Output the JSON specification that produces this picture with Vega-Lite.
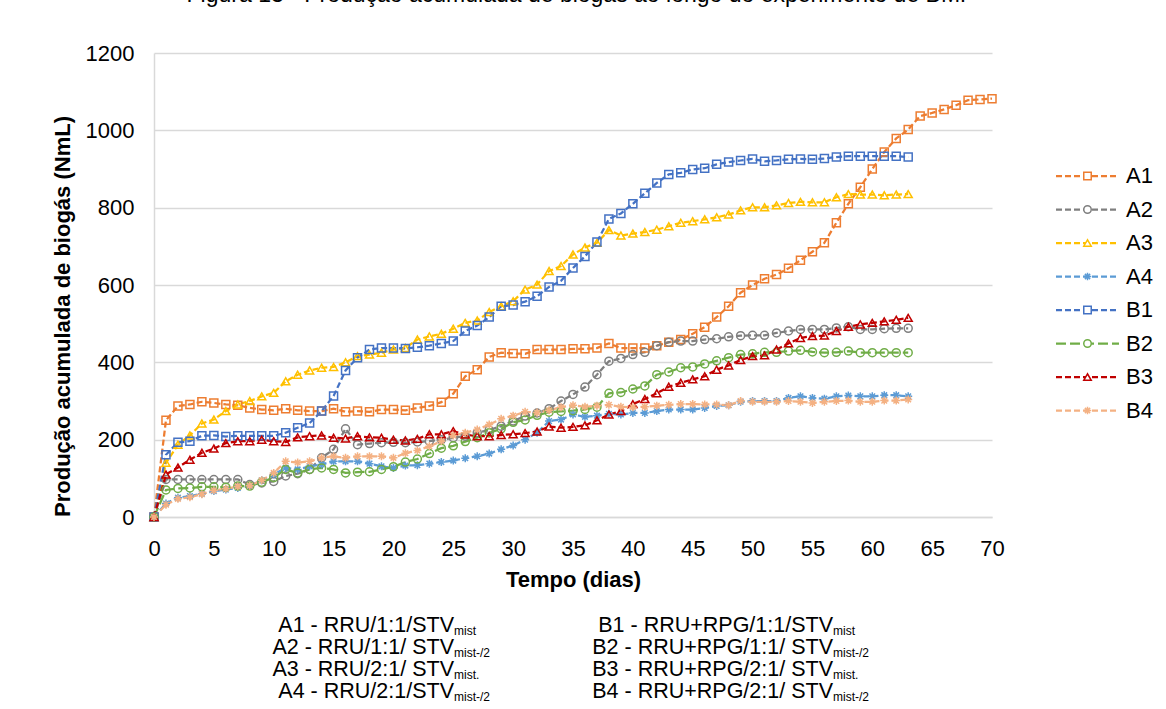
{
  "$schema": "https://vega.github.io/schema/vega-lite/v6.json",
  "background": "white",
  "padding": {"left": 51, "top": -16, "right": 5, "bottom": 5},
  "title": {"text": "Figura 13 - Produção acumulada de biogás ao longo do experimento de BMP", "fontSize": 23, "fontWeight": "normal", "font": "Liberation Sans", "color": "#000000", "anchor": "middle", "offset": 35, "dx": -21},
  "config": {"view": {"stroke": null}, "font": "Liberation Sans"},
  "datasets": {
    "series": [
      {"d":0,"A1":0,"A2":0,"A3":0,"A4":0,"B1":0,"B2":0,"B3":0,"B4":0},
      {"d":1,"A1":250,"A2":97,"A3":140,"A4":35,"B1":161,"B2":70,"B3":110,"B4":32},
      {"d":2,"A1":287,"A2":97,"A3":187,"A4":50,"B1":193,"B2":74,"B3":128,"B4":47},
      {"d":3,"A1":291,"A2":97,"A3":211,"A4":54,"B1":196,"B2":75,"B3":148,"B4":51},
      {"d":4,"A1":298,"A2":97,"A3":242,"A4":60,"B1":210,"B2":78,"B3":166,"B4":59},
      {"d":5,"A1":295,"A2":97,"A3":252,"A4":67,"B1":211,"B2":78,"B3":177,"B4":69},
      {"d":6,"A1":291,"A2":97,"A3":274,"A4":71,"B1":208,"B2":77,"B3":191,"B4":73},
      {"d":7,"A1":289,"A2":97,"A3":291,"A4":75,"B1":210,"B2":80,"B3":196,"B4":79},
      {"d":8,"A1":282,"A2":84,"A3":300,"A4":80,"B1":210,"B2":80,"B3":196,"B4":81},
      {"d":9,"A1":278,"A2":88,"A3":312,"A4":95,"B1":210,"B2":90,"B3":200,"B4":95},
      {"d":10,"A1":276,"A2":92,"A3":321,"A4":110,"B1":210,"B2":102,"B3":196,"B4":114},
      {"d":11,"A1":280,"A2":106,"A3":351,"A4":127,"B1":218,"B2":123,"B3":194,"B4":144},
      {"d":12,"A1":276,"A2":112,"A3":368,"A4":123,"B1":231,"B2":114,"B3":206,"B4":141},
      {"d":13,"A1":274,"A2":123,"A3":379,"A4":131,"B1":243,"B2":123,"B3":209,"B4":144},
      {"d":14,"A1":274,"A2":153,"A3":386,"A4":136,"B1":274,"B2":127,"B3":211,"B4":153},
      {"d":15,"A1":280,"A2":175,"A3":388,"A4":144,"B1":313,"B2":123,"B3":205,"B4":157},
      {"d":16,"A1":272,"A2":228,"A3":400,"A4":144,"B1":379,"B2":114,"B3":203,"B4":153},
      {"d":17,"A1":274,"A2":187,"A3":416,"A4":144,"B1":412,"B2":116,"B3":209,"B4":157},
      {"d":18,"A1":272,"A2":190,"A3":420,"A4":138,"B1":433,"B2":117,"B3":206,"B4":157},
      {"d":19,"A1":278,"A2":192,"A3":425,"A4":131,"B1":437,"B2":123,"B3":205,"B4":157},
      {"d":20,"A1":278,"A2":193,"A3":433,"A4":127,"B1":437,"B2":130,"B3":200,"B4":153},
      {"d":21,"A1":276,"A2":192,"A3":437,"A4":133,"B1":436,"B2":142,"B3":198,"B4":165},
      {"d":22,"A1":282,"A2":194,"A3":459,"A4":134,"B1":439,"B2":150,"B3":202,"B4":172},
      {"d":23,"A1":287,"A2":196,"A3":467,"A4":138,"B1":443,"B2":164,"B3":214,"B4":183},
      {"d":24,"A1":297,"A2":200,"A3":474,"A4":142,"B1":449,"B2":178,"B3":214,"B4":196},
      {"d":25,"A1":319,"A2":205,"A3":487,"A4":146,"B1":455,"B2":184,"B3":222,"B4":211},
      {"d":26,"A1":364,"A2":209,"A3":502,"A4":152,"B1":481,"B2":195,"B3":213,"B4":218},
      {"d":27,"A1":381,"A2":218,"A3":508,"A4":157,"B1":495,"B2":205,"B3":209,"B4":226},
      {"d":28,"A1":414,"A2":225,"A3":530,"A4":164,"B1":517,"B2":218,"B3":209,"B4":239},
      {"d":29,"A1":425,"A2":235,"A3":545,"A4":175,"B1":545,"B2":228,"B3":212,"B4":254},
      {"d":30,"A1":423,"A2":248,"A3":558,"A4":185,"B1":548,"B2":245,"B3":214,"B4":262},
      {"d":31,"A1":422,"A2":261,"A3":588,"A4":200,"B1":557,"B2":251,"B3":217,"B4":272},
      {"d":32,"A1":433,"A2":269,"A3":601,"A4":218,"B1":571,"B2":263,"B3":221,"B4":270},
      {"d":33,"A1":433,"A2":280,"A3":636,"A4":248,"B1":595,"B2":271,"B3":234,"B4":276},
      {"d":34,"A1":433,"A2":300,"A3":649,"A4":252,"B1":611,"B2":273,"B3":231,"B4":284},
      {"d":35,"A1":435,"A2":317,"A3":679,"A4":265,"B1":644,"B2":275,"B3":233,"B4":289},
      {"d":36,"A1":435,"A2":336,"A3":697,"A4":259,"B1":674,"B2":278,"B3":237,"B4":285},
      {"d":37,"A1":437,"A2":368,"A3":709,"A4":262,"B1":711,"B2":284,"B3":250,"B4":288},
      {"d":38,"A1":449,"A2":403,"A3":742,"A4":267,"B1":771,"B2":320,"B3":265,"B4":290},
      {"d":39,"A1":437,"A2":410,"A3":728,"A4":265,"B1":785,"B2":322,"B3":274,"B4":285},
      {"d":40,"A1":437,"A2":420,"A3":733,"A4":269,"B1":810,"B2":331,"B3":292,"B4":284},
      {"d":41,"A1":437,"A2":426,"A3":737,"A4":269,"B1":837,"B2":339,"B3":305,"B4":285},
      {"d":42,"A1":443,"A2":443,"A3":743,"A4":274,"B1":864,"B2":368,"B3":320,"B4":288},
      {"d":43,"A1":452,"A2":452,"A3":752,"A4":278,"B1":886,"B2":375,"B3":337,"B4":290},
      {"d":44,"A1":459,"A2":455,"A3":761,"A4":278,"B1":890,"B2":386,"B3":347,"B4":292},
      {"d":45,"A1":474,"A2":455,"A3":765,"A4":278,"B1":899,"B2":388,"B3":356,"B4":292},
      {"d":46,"A1":491,"A2":459,"A3":770,"A4":282,"B1":902,"B2":396,"B3":364,"B4":291},
      {"d":47,"A1":517,"A2":461,"A3":775,"A4":287,"B1":912,"B2":404,"B3":381,"B4":291},
      {"d":48,"A1":545,"A2":466,"A3":782,"A4":289,"B1":918,"B2":412,"B3":392,"B4":289},
      {"d":49,"A1":580,"A2":469,"A3":793,"A4":298,"B1":922,"B2":420,"B3":406,"B4":300},
      {"d":50,"A1":600,"A2":470,"A3":801,"A4":300,"B1":926,"B2":422,"B3":416,"B4":298},
      {"d":51,"A1":616,"A2":470,"A3":801,"A4":300,"B1":920,"B2":426,"B3":418,"B4":298},
      {"d":52,"A1":627,"A2":476,"A3":806,"A4":300,"B1":922,"B2":426,"B3":433,"B4":298},
      {"d":53,"A1":643,"A2":481,"A3":812,"A4":308,"B1":925,"B2":429,"B3":449,"B4":300},
      {"d":54,"A1":664,"A2":485,"A3":815,"A4":312,"B1":926,"B2":431,"B3":463,"B4":298},
      {"d":55,"A1":686,"A2":485,"A3":814,"A4":308,"B1":925,"B2":427,"B3":468,"B4":295},
      {"d":56,"A1":709,"A2":485,"A3":814,"A4":306,"B1":927,"B2":425,"B3":469,"B4":298},
      {"d":57,"A1":761,"A2":489,"A3":827,"A4":312,"B1":931,"B2":426,"B3":481,"B4":300},
      {"d":58,"A1":810,"A2":492,"A3":835,"A4":314,"B1":933,"B2":429,"B3":492,"B4":301},
      {"d":59,"A1":853,"A2":485,"A3":834,"A4":312,"B1":933,"B2":425,"B3":498,"B4":298},
      {"d":60,"A1":900,"A2":485,"A3":834,"A4":312,"B1":933,"B2":425,"B3":502,"B4":298},
      {"d":61,"A1":944,"A2":487,"A3":832,"A4":315,"B1":933,"B2":425,"B3":506,"B4":301},
      {"d":62,"A1":979,"A2":488,"A3":834,"A4":315,"B1":933,"B2":425,"B3":510,"B4":301},
      {"d":63,"A1":1002,"A2":488,"A3":835,"A4":312,"B1":931,"B2":425,"B3":515,"B4":304},
      {"d":64,"A1":1037},
      {"d":65,"A1":1045},
      {"d":66,"A1":1054},
      {"d":67,"A1":1065},
      {"d":68,"A1":1078},
      {"d":69,"A1":1080},
      {"d":70,"A1":1082}
    ],
    "leg": [{"s":"A1"},{"s":"A2"},{"s":"A3"},{"s":"A4"},{"s":"B1"},{"s":"B2"},{"s":"B3"},{"s":"B4"}],
    "notes": [
      {"c":"A","r":1,"m":"A1 - RRU/1:1/STV","sub":"mist"},
      {"c":"A","r":2,"m":"A2 - RRU/1:1/ STV","sub":"mist-/2"},
      {"c":"A","r":3,"m":"A3 - RRU/2:1/ STV","sub":"mist."},
      {"c":"A","r":4,"m":"A4 - RRU/2:1/STV","sub":"\u00a0mist-/2"},
      {"c":"B","r":1,"m":"B1 - RRU+RPG/1:1/STV","sub":"mist"},
      {"c":"B","r":2,"m":"B2 - RRU+RPG/1:1/ STV","sub":"mist-/2"},
      {"c":"B","r":3,"m":"B3 - RRU+RPG/2:1/ STV","sub":"mist."},
      {"c":"B","r":4,"m":"B4 - RRU+RPG/2:1/ STV","sub":"mist-/2"}
    ]
  },
  "columns": 2,
  "spacing": {"row": 25, "column": 49},
  "concat": [
    {
      "width": 838,
      "height": 464,
      "data": {"name": "series"},
      "transform": [
        {"fold": ["A1","A2","A3","A4","B1","B2","B3","B4"], "as": ["s","v"]},
        {"filter": "isValid(datum.v)"}
      ],
      "encoding": {
        "x": {"field": "d", "type": "quantitative",
          "scale": {"domain": [0, 70], "nice": false},
          "axis": {"values": [0,5,10,15,20,25,30,35,40,45,50,55,60,65,70], "title": "Tempo (dias)", "grid": false, "ticks": false,
            "domainColor": "#d9d9d9", "domainWidth": 1.5, "labelFlush": false, "labelFontSize": 22, "labelColor": "#000000", "labelPadding": 21,
            "titleFontSize": 22, "titleFontWeight": "bold", "titleColor": "#000000", "titlePadding": 10}},
        "y": {"field": "v", "type": "quantitative",
          "scale": {"domain": [0, 1200], "nice": false},
          "axis": {"values": [0,200,400,600,800,1000,1200], "format": "d", "title": "Produção acumulada de biogás (NmL)", "grid": true, "gridColor": "#d9d9d9", "gridWidth": 1.5,
            "ticks": false, "domainColor": "#d9d9d9", "domainWidth": 1.5, "labelFontSize": 22, "labelColor": "#000000", "labelPadding": 20,
            "titleFontSize": 22, "titleFontWeight": "bold", "titleColor": "#000000", "titlePadding": 11, "titleY": 263}},
        "color": {"field": "s", "type": "nominal",
          "scale": {"domain": ["A1","A2","A3","A4","B1","B2","B3","B4"], "range": ["#ED7D31","#7F7F7F","#FFC000","#5B9BD5","#4472C4","#70AD47","#C00000","#F4B183"]},
          "legend": null}
      },
      "layer": [
        {"mark": {"type": "line", "strokeWidth": 2.25},
          "encoding": {"strokeDash": {"field": "s", "type": "nominal",
            "scale": {"domain": ["A1","A2","A3","A4","B1","B2","B3","B4"], "range": [[6,3],[6,3],[6,3],[6,3],[6,3],[10,4],[6,3],[6,3]]}, "legend": null}}},
        {"mark": {"type": "point", "filled": false, "strokeWidth": 1.5, "size": 64, "opacity": 1},
          "encoding": {"shape": {"field": "s", "type": "nominal",
            "scale": {"domain": ["A1","A2","A3","A4","B1","B2","B3","B4"], "range": ["square","circle","triangle-up","M-1,0H1M0,-1V1M-0.7,-0.7L0.7,0.7M-0.7,0.7L0.7,-0.7","square","circle","triangle-up","M-1,0H1M0,-1V1M-0.7,-0.7L0.7,0.7M-0.7,0.7L0.7,-0.7"]}, "legend": null}}}
      ]
    },
    {
      "width": 63,
      "height": 464,
      "data": {"name": "leg"},
      "encoding": {
        "y": {"field": "s", "type": "nominal", "scale": {"type": "point", "domain": ["_a","_b","_c","A1","A2","A3","A4","B1","B2","B3","B4","_x","_y","_z"], "padding": 0.425, "align": 0.79}, "axis": null},
        "color": {"field": "s", "type": "nominal",
          "scale": {"domain": ["A1","A2","A3","A4","B1","B2","B3","B4"], "range": ["#ED7D31","#7F7F7F","#FFC000","#5B9BD5","#4472C4","#70AD47","#C00000","#F4B183"]},
          "legend": null}
      },
      "layer": [
        {"mark": {"type": "rule", "strokeWidth": 2.25},
          "encoding": {"x": {"datum": 0, "type": "quantitative", "scale": {"domain": [0, 1]}, "axis": null}, "x2": {"datum": 1},
            "strokeDash": {"field": "s", "type": "nominal",
              "scale": {"domain": ["A1","A2","A3","A4","B1","B2","B3","B4"], "range": [[6,3],[6,3],[6,3],[6,3],[6,3],[10,4],[6,3],[6,3]]}, "legend": null}}},
        {"mark": {"type": "point", "filled": true, "fill": "white", "strokeWidth": 1.5, "size": 56, "opacity": 1},
          "encoding": {"x": {"datum": 0.5, "type": "quantitative"},
            "stroke": {"field": "s", "type": "nominal", "scale": {"domain": ["A1","A2","A3","A4","B1","B2","B3","B4"], "range": ["#ED7D31","#7F7F7F","#FFC000","#5B9BD5","#4472C4","#70AD47","#C00000","#F4B183"]}, "legend": null},
            "shape": {"field": "s", "type": "nominal",
            "scale": {"domain": ["A1","A2","A3","A4","B1","B2","B3","B4"], "range": ["square","circle","triangle-up","M-1,0H1M0,-1V1M-0.7,-0.7L0.7,0.7M-0.7,0.7L0.7,-0.7","square","circle","triangle-up","M-1,0H1M0,-1V1M-0.7,-0.7L0.7,0.7M-0.7,0.7L0.7,-0.7"]}, "legend": null}}},
        {"mark": {"type": "text", "align": "left", "baseline": "middle", "dx": 7, "fontSize": 22},
          "encoding": {"x": {"datum": 1, "type": "quantitative"}, "text": {"field": "s"}, "color": {"value": "#000000"}}}
      ]
    },
    {
      "width": 838,
      "height": 88,
      "data": {"name": "notes"},
      "encoding": {
        "x": {"field": "c", "type": "nominal", "scale": {"type": "point", "domain": ["A","B"], "padding": 0.6055, "align": 0.6536}, "axis": null},
        "y": {"field": "r", "type": "ordinal", "scale": {"type": "point", "padding": 0.5}, "axis": null}
      },
      "layer": [
        {"mark": {"type": "text", "align": "right", "baseline": "middle", "fontSize": 21.5, "color": "#000000"},
          "encoding": {"text": {"field": "m"}}},
        {"mark": {"type": "text", "align": "left", "baseline": "middle", "fontSize": 12, "dy": 4.5, "color": "#000000"},
          "encoding": {"text": {"field": "sub"}}}
      ]
    }
  ]
}
